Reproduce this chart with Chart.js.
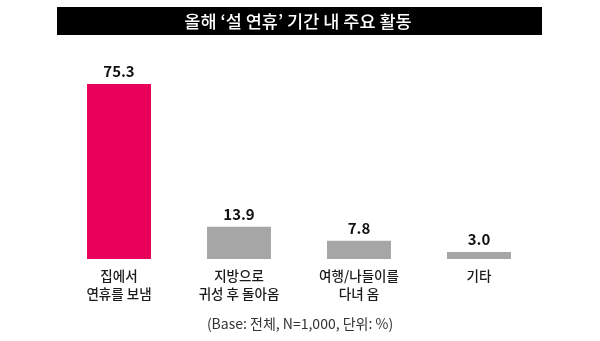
<!DOCTYPE html>
<html>
<head>
<meta charset="utf-8">
<script src="https://cdn.jsdelivr.net/npm/chart.js@4"></script>
<style>
  html, body { margin: 0; padding: 0; background: #fff; }
  #wrap { width: 600px; height: 341px; }
</style>
</head>
<body>
<div id="wrap"><canvas id="chart" width="600" height="341"></canvas></div>
<script>
// 올해 설 연휴 주요 활동 (%)
const categories = [
    ['집에서', '연휴를 보냄'],
    ['지방으로', '귀성 후 돌아옴'],
    ['여행/나들이를', '다녀 옴'],
    ['기타']
];
const values = [75.3, 13.9, 7.8, 3.0];
const barColors = ['#e8005a', '#a6a6a6', '#a6a6a6', '#a6a6a6'];
const titleText = '올해 \u2018설 연휴\u2019 기간 내 주요 활동';
const footText = '(Base: 전체, N=1,000, 단위: %)';

const KR = '"Noto Sans CJK KR", "Noto Sans", sans-serif';

// black title bar, value labels, two-line category labels, footnote
const decorations = {
    id: 'decorations',
    afterDraw(chart) {
        const ctx = chart.ctx;
        const xs = chart.scales.x;
        const meta = chart.getDatasetMeta(0);
        ctx.save();

        ctx.fillStyle = '#000';
        ctx.fillRect(57, 7, 485, 28);
        ctx.fillStyle = '#fff';
        ctx.font = '500 17.5px ' + KR;
        ctx.textAlign = 'center';
        ctx.textBaseline = 'middle';
        ctx.fillText(titleText, 298, 21);

        ctx.fillStyle = '#111';
        ctx.font = 'bold 15px ' + KR;
        ctx.textBaseline = 'alphabetic';
        meta.data.forEach((bar, i) => {
            ctx.fillText(values[i].toFixed(1), bar.x, bar.y - 7);
        });

        ctx.fillStyle = '#1a1a1a';
        ctx.font = '500 13.5px ' + KR;
        ctx.textBaseline = 'middle';
        categories.forEach((lines, i) => {
            const x = xs.getPixelForValue(i);
            lines.forEach((line, j) => {
                ctx.fillText(line, x, 276 + j * 18);
            });
        });

        ctx.fillStyle = '#333';
        ctx.font = '14px ' + KR;
        ctx.fillText(footText, 300, 324);
        ctx.restore();
    }
};

new Chart(document.getElementById('chart'), {
    type: 'bar',
    data: {
        labels: categories.map(c => c.join(' ')),
        datasets: [{
            data: values,
            backgroundColor: barColors,
            borderWidth: 0,
            barPercentage: 0.533,
            categoryPercentage: 1.0
        }]
    },
    options: {
        responsive: false,
        animation: false,
        layout: { padding: { left: 59, right: 61, top: 73, bottom: 82 } },
        plugins: {
            legend: { display: false },
            tooltip: { enabled: false }
        },
        scales: {
            x: { display: false },
            y: { display: false, min: 0, max: 80 }
        }
    },
    plugins: [decorations]
});
</script>
</body>
</html>
